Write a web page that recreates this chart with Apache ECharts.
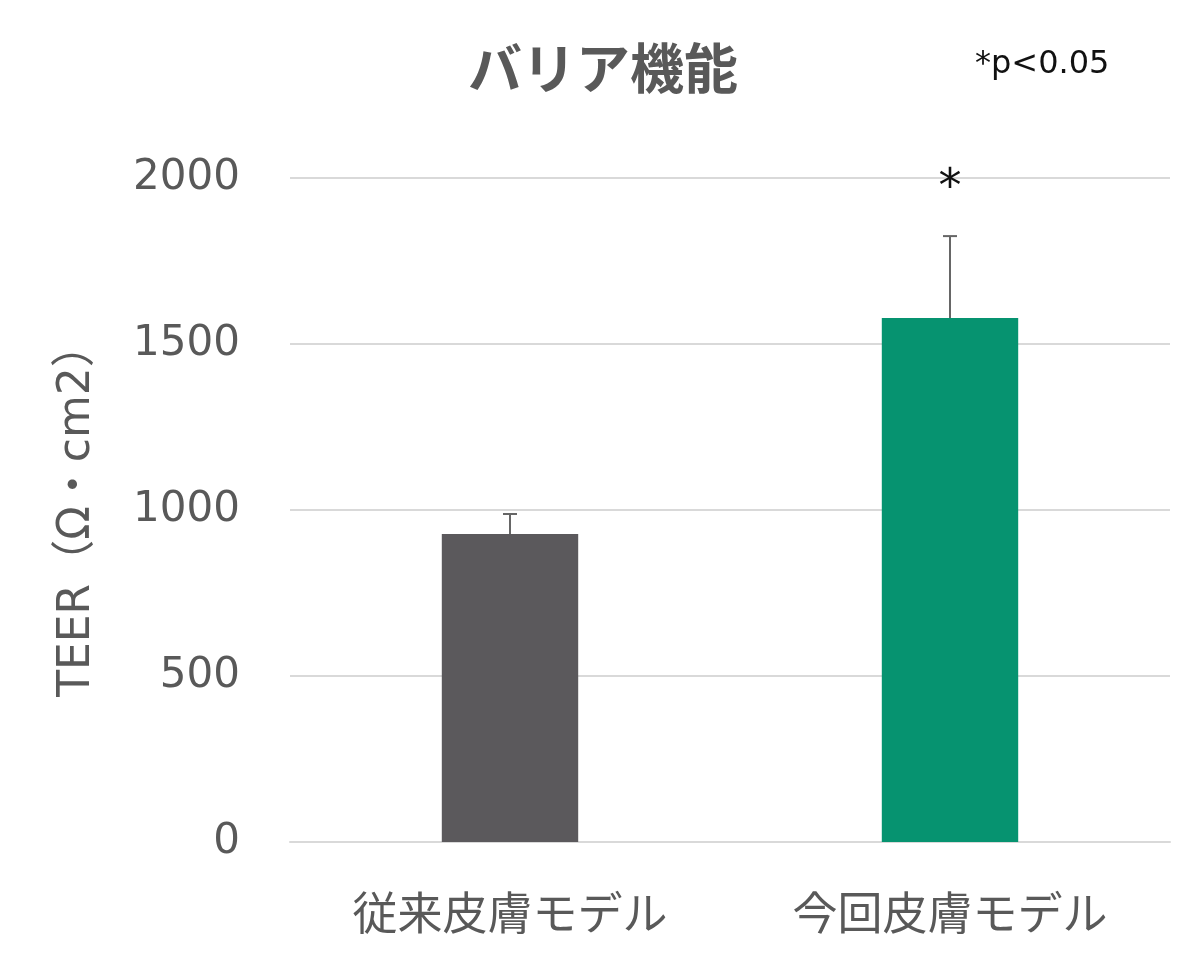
<!DOCTYPE html>
<html>
<head>
<meta charset="utf-8">
<script src="https://cdn.jsdelivr.net/npm/echarts@6/dist/echarts.min.js"></script>
<style>
  html, body { margin: 0; padding: 0; background: #fff; }
  #chart { width: 1200px; height: 980px; }
</style>
</head>
<body>
<div id="chart"></div>
<script>
// data
const categories = ['従来皮膚モデル', '今回皮膚モデル'];
const means = [928, 1578];
const errors = [60, 247];
const marks = ['', '*'];
const yTicks = [0, 500, 1000, 1500, 2000];
const barColors = ['#5b595c', '#069370'];

const chart = echarts.init(document.getElementById('chart'), null, { renderer: 'canvas' });

// latin glyphs in a wide sans, kana/kanji fall back to Noto CJK
const font = '"DejaVu Sans", "Noto Sans CJK JP", sans-serif';
const cjk = '"Noto Sans CJK JP", sans-serif';

chart.setOption({
  animation: false,
  backgroundColor: '#fff',
  title: [
    {
      text: 'バリア機能',
      left: 598, top: 36, textAlign: 'center',
      textStyle: { fontFamily: cjk, fontSize: 54, fontWeight: 'bold', color: '#595959' }
    },
    {
      text: '*p<0.05',
      left: 970, top: 44,
      textStyle: { fontFamily: font, fontSize: 32, fontWeight: 'normal', color: '#111' }
    }
  ],
  grid: { left: 290, right: 30, top: 178, bottom: 138 },
  xAxis: {
    type: 'category',
    data: categories,
    axisTick: { show: false },
    axisLine: { lineStyle: { color: '#d9d9d9', width: 2 } },
    axisLabel: { fontFamily: cjk, fontSize: 45, color: '#595959', margin: 48 }
  },
  yAxis: {
    type: 'value',
    min: yTicks[0], max: yTicks[yTicks.length - 1], interval: 500,
    name: 'TEER（Ω・cm2）',
    nameLocation: 'middle',
    nameGap: 190,
    nameRotate: 90,
    nameTextStyle: { fontFamily: font, fontSize: 44, color: '#595959' },
    axisLine: { show: false },
    axisTick: { show: false },
    axisLabel: {
      fontFamily: font, fontSize: 42, color: '#595959', margin: 50,
      formatter: v => String(v)
    },
    splitLine: { lineStyle: { color: '#d9d9d9', width: 2 } }
  },
  series: [
    {
      type: 'bar',
      barWidth: '31%',
      data: means.map((v, i) => ({ value: v, itemStyle: { color: barColors[i] } }))
    },
    {
      type: 'custom',
      data: means.map((v, i) => [i, v, errors[i]]),
      renderItem: function (params, api) {
        const x = api.value(0);
        const base = api.coord([x, api.value(1)]);
        const top = api.coord([x, api.value(1) + api.value(2)]);
        const half = 7;
        const style = { stroke: '#666', lineWidth: 2 };
        const children = [
          { type: 'line', shape: { x1: base[0], y1: base[1], x2: top[0], y2: top[1] }, style },
          { type: 'line', shape: { x1: top[0] - half, y1: top[1], x2: top[0] + half, y2: top[1] }, style }
        ];
        const m = marks[params.dataIndex];
        if (m) {
          children.push({
            type: 'text',
            style: {
              text: m, x: top[0], y: top[1] - 47,
              textAlign: 'center', textVerticalAlign: 'middle',
              fontFamily: font, fontSize: 46, fill: '#111'
            }
          });
        }
        return { type: 'group', children };
      },
      z: 5
    }
  ]
});
</script>
</body>
</html>
